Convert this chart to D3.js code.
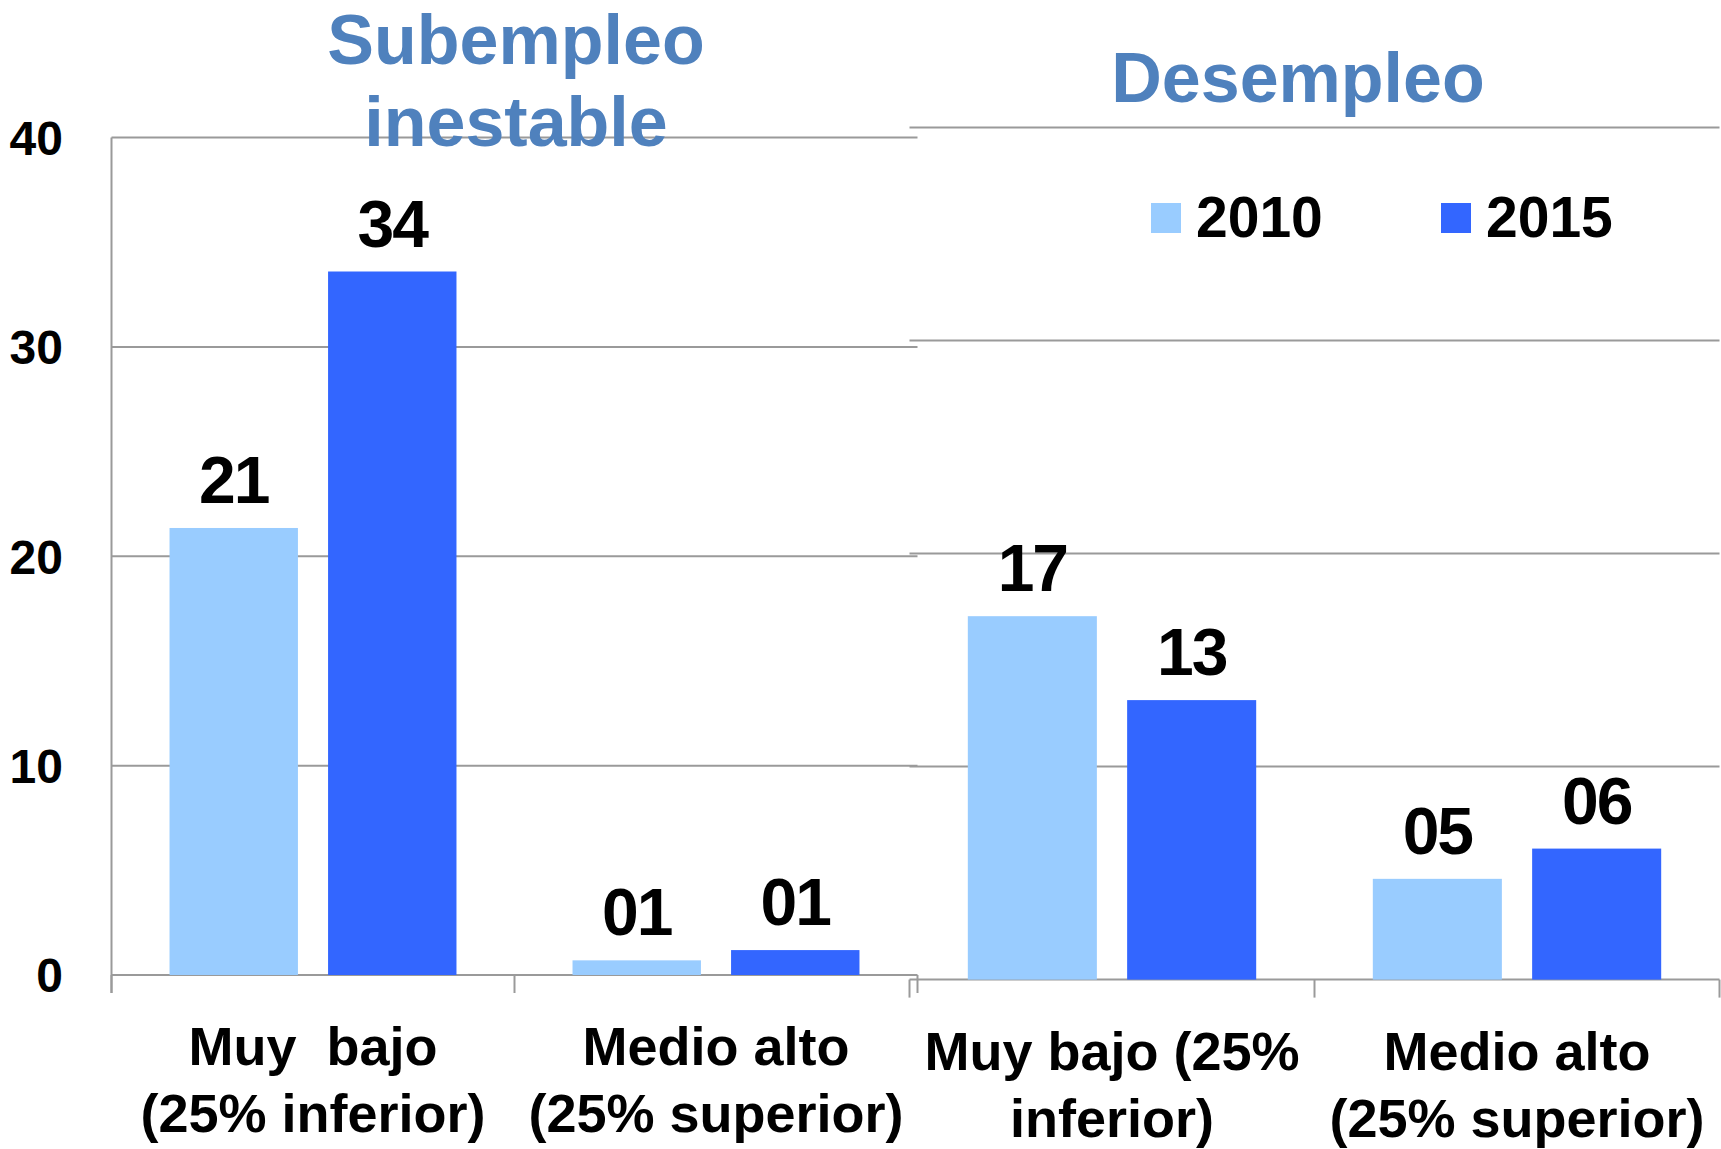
<!DOCTYPE html>
<html>
<head>
<meta charset="utf-8">
<script src="https://cdn.jsdelivr.net/npm/d3@7"></script>
<style>
  body { margin: 0; background: #fff; }
  svg { display: block; font-family: "Liberation Sans", Arial, sans-serif; }
</style>
</head>
<body>
<div id="plot"></div>
<script>
// chart data
const series = ["2010", "2015"];
const yTicks = [0, 10, 20, 30, 40];
const subempleoTitle = ["Subempleo", "inestable"];
const desempleoTitle = ["Desempleo"];
const subempleoCategories = [["Muy  bajo", "(25% inferior)"], ["Medio alto", "(25% superior)"]];
const desempleoCategories = [["Muy bajo (25%", "inferior)"], ["Medio alto", "(25% superior)"]];
const subempleo2010 = [21.35, 0.7];
const subempleo2015 = [33.6, 1.19];
const desempleo2010 = [17.06, 4.73];
const desempleo2015 = [13.12, 6.15];

const colors = { "2010": "#99CCFF", "2015": "#3366FF" };
const titleColor = "#4F81BD";
const gridColor = "#9a9a9a";
const fmt = d3.format("02.0f");

const width = 1721, height = 1149;

const svg = d3.select("div#plot")
  .append("svg")
    .attr("width", width)
    .attr("height", height);

const panels = [
  {
    title: subempleoTitle, titleX: 516, titleY: [64, 146],
    cats: subempleoCategories, v2010: subempleo2010, v2015: subempleo2015,
    x0: 111.5, x1: 917.5, yBase: 975, yTop: 137.5, showY: true
  },
  {
    title: desempleoTitle, titleX: 1298, titleY: [102],
    cats: desempleoCategories, v2010: desempleo2010, v2015: desempleo2015,
    x0: 909.5, x1: 1719.5, yBase: 979.6, yTop: 127.5, showY: false
  }
];

panels.forEach(function(p) {
  var g = svg.append("g");

  var y = d3.scaleLinear().domain([0, 40]).range([p.yBase, p.yTop]);
  var x = d3.scaleBand().domain([0, 1]).range([p.x0, p.x1]);
  var xs = d3.scaleBand().domain(series).range([0, x.bandwidth()])
    .paddingInner(0.19).paddingOuter(0.366);

  // gridlines
  g.selectAll(".grid")
    .data(yTicks)
    .enter()
    .append("line")
      .attr("x1", p.x0)
      .attr("x2", p.x1)
      .attr("y1", d => y(d))
      .attr("y2", d => y(d))
      .attr("stroke", gridColor)
      .attr("stroke-width", 2);

  // category tick marks
  var bounds = [0, 1].map(d => x(d)).concat([x(1) + x.bandwidth()]);
  g.selectAll(".ctick")
    .data(bounds)
    .enter()
    .append("line")
      .attr("x1", d => d)
      .attr("x2", d => d)
      .attr("y1", y(0))
      .attr("y2", y(0) + 18)
      .attr("stroke", gridColor)
      .attr("stroke-width", 2);

  if (p.showY) {
    g.append("line")
      .attr("x1", p.x0).attr("x2", p.x0)
      .attr("y1", y(40)).attr("y2", y(0) + 18)
      .attr("stroke", gridColor)
      .attr("stroke-width", 2);

    g.selectAll(".ylab")
      .data(yTicks)
      .enter()
      .append("text")
        .attr("x", 63)
        .attr("y", d => y(d))
        .attr("dy", "0.36em")
        .attr("text-anchor", "end")
        .style("font-size", "48px")
        .style("font-weight", "bold")
        .text(d => d);
  }

  // bars
  var rows = [];
  [0, 1].forEach(function(i) {
    rows.push({ cat: i, s: "2010", v: p.v2010[i] });
    rows.push({ cat: i, s: "2015", v: p.v2015[i] });
  });

  g.selectAll("rect")
    .data(rows)
    .enter()
    .append("rect")
      .attr("x", d => x(d.cat) + xs(d.s))
      .attr("y", d => y(d.v))
      .attr("width", xs.bandwidth())
      .attr("height", d => y(0) - y(d.v))
      .style("fill", d => colors[d.s]);

  g.selectAll(".val")
    .data(rows)
    .enter()
    .append("text")
      .attr("x", d => x(d.cat) + xs(d.s) + xs.bandwidth() / 2)
      .attr("y", d => y(d.v) - 25)
      .attr("text-anchor", "middle")
      .style("font-size", "66px")
      .style("font-weight", "bold")
      .style("letter-spacing", "-2px")
      .text(d => fmt(d.v));

  // category labels
  p.cats.forEach(function(lines, i) {
    lines.forEach(function(t, j) {
      g.append("text")
        .attr("x", x(i) + x.bandwidth() / 2)
        .attr("y", y(0) + 90 + j * 67)
        .attr("text-anchor", "middle")
        .style("font-size", "54px")
        .style("font-weight", "bold")
        .style("white-space", "pre")
        .text(t);
    });
  });

  // panel title
  p.title.forEach(function(t, j) {
    g.append("text")
      .attr("x", p.titleX)
      .attr("y", p.titleY[j])
      .attr("text-anchor", "middle")
      .style("font-size", "70px")
      .style("font-weight", "bold")
      .style("fill", titleColor)
      .text(t);
  });
});

// legend
const legendX = [1151, 1441];
const legend = svg.selectAll(".legend")
  .data(series)
  .enter()
  .append("g")
    .attr("transform", (d, i) => "translate(" + legendX[i] + ",203)");

legend.append("rect")
  .attr("width", 30)
  .attr("height", 30)
  .style("fill", d => colors[d]);

legend.append("text")
  .attr("x", 45)
  .attr("y", 33.5)
  .style("font-size", "57px")
  .style("font-weight", "bold")
  .text(d => d);
</script>
</body>
</html>
